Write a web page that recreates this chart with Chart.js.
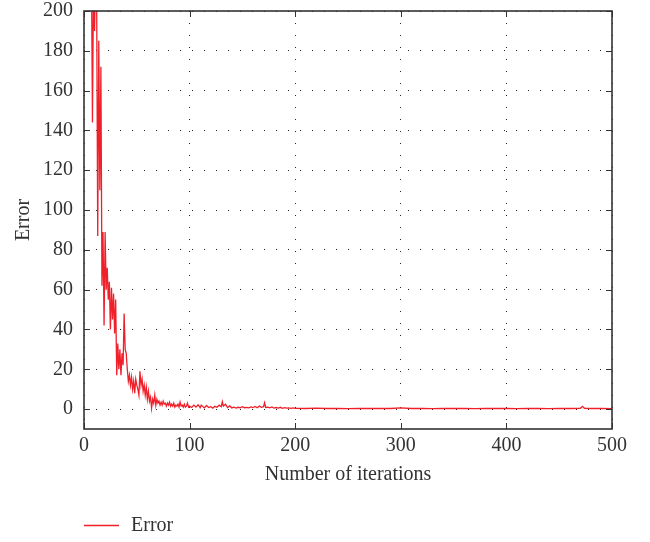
<!DOCTYPE html>
<html>
<head>
<meta charset="utf-8">
<script src="https://cdn.jsdelivr.net/npm/chart.js@4"></script>
<style>
  html, body { margin: 0; padding: 0; background: #fff; }
  #wrap { width: 650px; height: 542px; position: relative; }
</style>
</head>
<body>
<div id="wrap"><canvas id="err-chart"></canvas></div>
<script>
// ─── Data ──────────────────────────────────────────────────────────
const iterations = [
  1, 2, 3, 4, 5, 6, 7, 8, 9, 10, 11, 12, 13, 14, 15, 16, 17, 18, 19, 20,
  21, 22, 23, 24, 25, 26, 27, 28, 29, 30, 31, 32, 33, 34, 35, 36, 37, 38, 39, 40,
  41, 42, 43, 44, 45, 46, 47, 48, 49, 50, 51, 52, 53, 54, 55, 56, 57, 58, 59, 60,
  61, 62, 63, 64, 65, 66, 67, 68, 69, 70, 71, 72, 73, 74, 75, 76, 77, 78, 79, 80,
  81, 82, 83, 84, 85, 86, 87, 88, 89, 90, 91, 92, 93, 94, 95, 96, 97, 98, 99, 100,
  102, 104, 106, 108, 110, 111, 112, 114, 116, 118, 120, 122, 124, 126, 128, 130,
  131, 132, 134, 136, 138, 140, 142, 144, 146, 148, 150, 152, 154, 156, 158, 160,
  162, 164, 166, 168, 170, 171, 172, 174, 176, 178, 180, 182, 184, 186, 188, 190,
  192, 194, 196, 198, 200, 210, 220, 230, 240, 250, 260, 270, 280, 290, 300, 310,
  320, 330, 340, 350, 360, 370, 380, 390, 400, 410, 420, 430, 440, 450, 460, 470,
  472, 474, 480, 490, 500
];
const errorValues = [
  330, 300, 280, 265, 250, 240, 228, 144, 215, 190, 225, 205, 87, 185, 110, 172, 62, 89, 42, 89,
  60, 71, 55, 64, 40, 61, 45, 58, 38, 55, 17, 33, 20, 30, 17, 28, 22, 48, 30, 28,
  20, 14, 17, 12, 16, 10, 14, 8, 15, 12, 10, 7, 19, 12, 15, 9, 12, 7, 11, 5,
  9, 4, 6, 0.5, 5, 3, 7, 2, 5, 3, 4, 2, 3.5, 2, 4, 2.5, 3, 1.5, 3, 2,
  3.5, 1.5, 2.5, 1.5, 3, 1, 2, 1.5, 2.5, 1, 3.5, 1.5, 2, 1, 2.5, 1, 1.5, 3, 1, 1.5,
  0.8, 2.0, 1.0, 2.2, 0.7, 2.0, 1.5, 0.6, 1.8, 0.8, 1.2, 0.5, 1.4, 0.9, 2.0, 1.2,
  3.7, 1.5, 2.4, 0.8, 1.6, 0.6, 1.0, 0.5, 0.9, 0.6, 1.2, 0.7, 0.9, 0.6, 1.1, 0.8,
  1.3, 0.7, 1.5, 0.9, 1.2, 3.2, 0.8, 1.0, 0.6, 1.1, 0.5, 0.8, 0.5, 0.9, 0.4, 0.7,
  0.5, 0.6, 0.4, 0.6, 0.4, 0.3, 0.5, 0.3, 0.4, 0.2, 0.4, 0.3, 0.4, 0.3, 0.6, 0.3,
  0.4, 0.2, 0.4, 0.3, 0.3, 0.2, 0.4, 0.3, 0.3, 0.2, 0.3, 0.4, 0.2, 0.3, 0.3, 0.4,
  1.4, 0.4, 0.3, 0.3, 0.2
];
const xTickValues = [0, 100, 200, 300, 400, 500];
const yTickValues = [0, 20, 40, 60, 80, 100, 120, 140, 160, 180, 200];

const seriesLabel = 'Error';
const xTitle = 'Number of iterations';
const yTitle = 'Error';

const FONT = 'Liberation Serif';
const INK = '#333333';
const RED = '#f0202a';

// frame around the plot plus inward tick marks on all four sides
const framePlugin = {
  id: 'frame',
  afterDatasetsDraw(chart) {
    const { ctx, chartArea: a, scales } = chart;
    ctx.save();
    ctx.strokeStyle = INK;
    ctx.lineWidth = 1;
    for (const t of scales.x.ticks) {
      const px = Math.round(scales.x.getPixelForValue(t.value)) + 0.5;
      ctx.beginPath();
      ctx.moveTo(px, a.bottom); ctx.lineTo(px, a.bottom - 6);
      ctx.moveTo(px, a.top); ctx.lineTo(px, a.top + 6);
      ctx.stroke();
    }
    for (const t of scales.y.ticks) {
      const py = Math.round(scales.y.getPixelForValue(t.value)) + 0.5;
      ctx.beginPath();
      ctx.moveTo(a.left, py); ctx.lineTo(a.left + 6, py);
      ctx.moveTo(a.right, py); ctx.lineTo(a.right - 6, py);
      ctx.stroke();
    }
    ctx.lineWidth = 1.6;
    ctx.strokeRect(a.left, a.top, a.right - a.left, a.bottom - a.top);
    ctx.restore();
  },
};

// legend under the axis title, left edge lined up with the plot
const legendPlugin = {
  id: 'bottomLegend',
  afterDraw(chart) {
    const { ctx, chartArea: a } = chart;
    const y = chart.height - 16.5;
    ctx.save();
    chart.data.datasets.forEach((ds) => {
      ctx.strokeStyle = ds.borderColor;
      ctx.lineWidth = 1.4;
      ctx.beginPath();
      ctx.moveTo(a.left, y); ctx.lineTo(a.left + 35, y);
      ctx.stroke();
      ctx.fillStyle = INK;
      ctx.font = '20px "' + FONT + '"';
      ctx.textBaseline = 'middle';
      ctx.fillText(ds.label, a.left + 47, y);
    });
    ctx.restore();
  },
};

new Chart(document.getElementById('err-chart'), {
  type: 'line',
  data: {
    datasets: [{
      label: seriesLabel,
      data: iterations.map((it, i) => ({ x: it, y: errorValues[i] })),
      borderColor: RED,
      backgroundColor: RED,
      borderWidth: 1.3,
      pointRadius: 0,
      tension: 0,
      fill: false,
    }],
  },
  options: {
    responsive: true,
    maintainAspectRatio: false,
    animation: false,
    layout: { padding: { top: 0, right: 38, bottom: 55, left: 0 } },
    plugins: {
      legend: { display: false },
      tooltip: { enabled: false },
    },
    scales: {
      x: {
        type: 'linear',
        min: 0,
        max: 500,
        afterBuildTicks: (s) => { s.ticks = xTickValues.map((v) => ({ value: v })); },
        grid: { color: '#222', drawTicks: false },
        border: { display: false, dash: [1, 11] },
        ticks: {
          color: INK,
          padding: 5,
          maxRotation: 0,
          font: { family: FONT, size: 20 },
        },
        title: {
          display: true,
          text: xTitle,
          color: INK,
          font: { family: FONT, size: 20 },
          padding: { top: 0, bottom: 0 },
        },
      },
      y: {
        min: -10,
        max: 200,
        afterBuildTicks: (s) => { s.ticks = yTickValues.map((v) => ({ value: v })); },
        afterFit: (s) => {
          s.width = 84;
          s.paddingTop = 11;
          s.paddingBottom = 0;
        },
        grid: { color: '#222', drawTicks: false },
        border: { display: false, dash: [1, 11] },
        ticks: {
          color: INK,
          padding: 11,
          font: { family: FONT, size: 20 },
        },
        title: {
          display: true,
          text: yTitle,
          color: INK,
          font: { family: FONT, size: 20 },
          padding: { top: 12, bottom: 0 },
        },
      },
    },
  },
  plugins: [framePlugin, legendPlugin],
});
</script>
</body>
</html>
